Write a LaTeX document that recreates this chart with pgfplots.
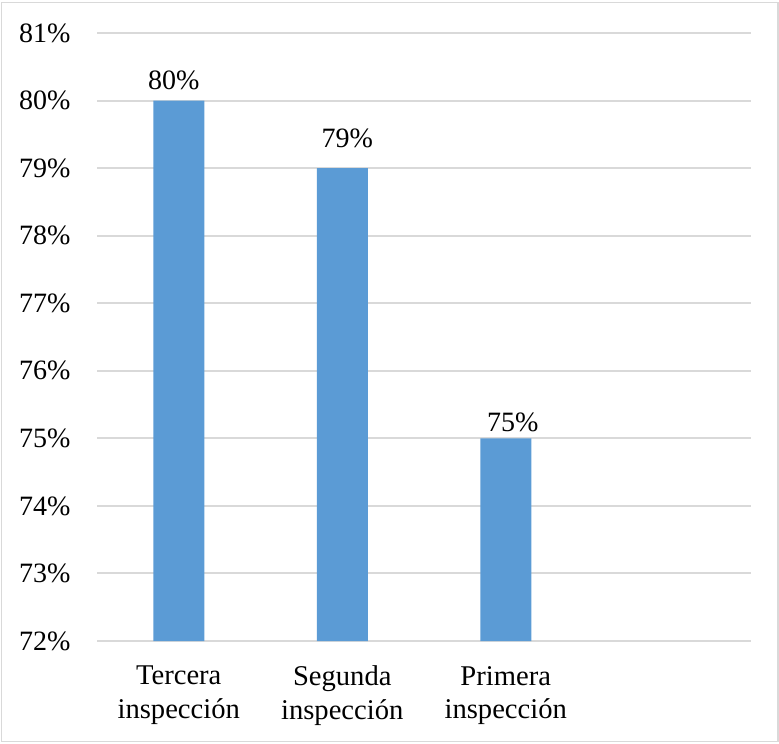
\documentclass[border=0pt]{standalone}
\usepackage{fontspec}
\setmainfont{Liberation Serif}
\usepackage{pgfplots}
\usepackage{pgfplotstable}
\pgfplotsset{compat=1.18}

\definecolor{barblue}{HTML}{5B9BD5}
\definecolor{gridgray}{HTML}{D9D9D9}

% x: category position, y: percentage, dx/dy: label nudges (pt)
\pgfplotstableread{
x y dx dy
0 80 -2.5 5.5
1 79 2.5 10.5
2 75 3.5 3.3
}\inspecciones

\begin{document}
\begin{tikzpicture}
\useasboundingbox (-48.5pt,-51pt) rectangle (341pt,320.5pt);
\draw[gridgray, line width=0.7pt] (-47.8pt,-50.2pt) rectangle (340.4pt,319.2pt);
\begin{axis}[
  at={(0pt,0pt)}, anchor=south west,
  scale only axis,
  width=327pt, height=304pt,
  xmin=-0.5, xmax=3.5,
  ymin=72, ymax=81,
  ytick={72,73,...,81},
  xtick={0,1,2},
  xticklabels={{Tercera\\inspección},{Segunda\\inspección},{Primera\\inspección}},
  axis line style={draw=none},
  major tick length=0pt,
  ymajorgrids,
  major grid style={gridgray, line width=1pt},
  /pgf/number format/assume math mode=true,
  yticklabel={\pgfmathprintnumber{\tick}\%},
  yticklabel style={font=\fontsize{14}{16.5}\selectfont, anchor=east, xshift=-9.8pt},
  xticklabel style={font=\fontsize{14.3}{16.8}\selectfont, align=center, anchor=north, yshift=-9pt},
  ybar, bar width=25.5pt,
  nodes near coords={\pgfmathprintnumber{\pgfplotspointmeta}\%},
  point meta=y,
  visualization depends on={\thisrow{dx} \as \labdx},
  visualization depends on={\thisrow{dy} \as \labdy},
  nodes near coords style={font=\fontsize{14}{16.5}\selectfont, anchor=base, inner sep=0pt,
    xshift=\labdx pt, yshift=\labdy pt},
]
\addplot[fill=barblue, draw=none] table[x=x, y=y] {\inspecciones};
\end{axis}
\end{tikzpicture}
\end{document}
